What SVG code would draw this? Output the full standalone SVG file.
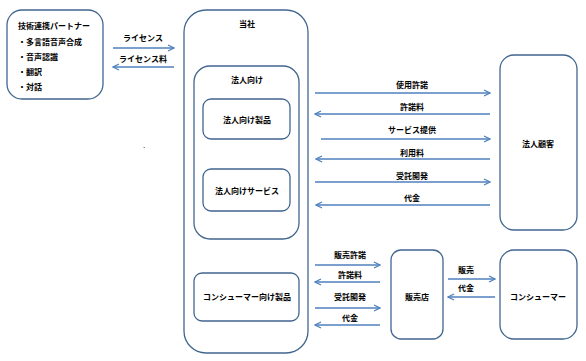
<svg xmlns="http://www.w3.org/2000/svg" width="586" height="361" viewBox="0 0 586 361">
<defs>
<style>
.box{fill:#fff;stroke:#41668f;stroke-width:1.3}
.t{font-family:"Noto Sans CJK JP","Noto Sans",sans-serif;font-size:8px;font-weight:bold;fill:#000}
.c{text-anchor:middle}
.a{stroke:#4f81bd;stroke-width:1.3;fill:none}
</style>
<marker id="ah" viewBox="0 0 8 8" refX="7" refY="4" markerWidth="8" markerHeight="8" markerUnits="userSpaceOnUse" orient="auto-start-reverse">
<path d="M1,1 L7,4 L1,7" fill="none" stroke="#4f81bd" stroke-width="1.3"/>
</marker>
</defs>
<rect width="586" height="361" fill="#fff"/>

<g id="partner">
<rect class="box" x="7" y="10" width="96" height="89" rx="15"/>
<text class="t" x="18" y="29">技術連携パートナー</text>
<text class="t" x="18" y="45">・多言語音声合成</text>
<text class="t" x="18" y="60">・音声認識</text>
<text class="t" x="18" y="75">・翻訳</text>
<text class="t" x="18" y="90">・対話</text>
</g>

<g id="tousha">
<rect class="box" x="184" y="10" width="124" height="343" rx="22"/>
<text class="t c" x="247" y="27">当社</text>
</g>

<g id="houjin">
<rect class="box" x="194" y="66" width="105" height="173" rx="16"/>
<text class="t c" x="247" y="83">法人向け</text>
</g>

<g id="houjin-seihin">
<rect class="box" x="203" y="99" width="87" height="40" rx="8"/>
<text class="t c" x="247" y="123">法人向け製品</text>
</g>

<g id="houjin-service">
<rect class="box" x="203" y="169" width="87" height="42" rx="8"/>
<text class="t c" x="247" y="194">法人向けサービス</text>
</g>

<g id="consumer-seihin">
<rect class="box" x="194" y="273" width="105" height="48" rx="8"/>
<text class="t c" x="247" y="300">コンシューマー向け製品</text>
</g>

<g id="houjin-kokyaku">
<rect class="box" x="500" y="55" width="77" height="175" rx="14"/>
<text class="t c" x="538" y="147">法人顧客</text>
</g>

<g id="hanbaiten">
<rect class="box" x="391" y="250" width="52" height="89" rx="10"/>
<text class="t c" x="417" y="300">販売店</text>
</g>

<g id="consumer">
<rect class="box" x="500" y="250" width="77" height="89" rx="14"/>
<text class="t c" x="538" y="300">コンシューマー</text>
</g>

<g id="connectors">
<line class="a" x1="113" y1="48" x2="174" y2="48" marker-end="url(#ah)"/>
<line class="a" x1="174" y1="67" x2="113" y2="67" marker-end="url(#ah)"/>
<text class="t c" x="143" y="41">ライセンス</text>
<text class="t c" x="143" y="62">ライセンス料</text>

<line class="a" x1="315" y1="93" x2="490" y2="93" marker-end="url(#ah)"/>
<line class="a" x1="490" y1="114" x2="315" y2="114" marker-end="url(#ah)"/>
<line class="a" x1="321" y1="139" x2="490" y2="139" marker-end="url(#ah)"/>
<line class="a" x1="490" y1="159" x2="316" y2="159" marker-end="url(#ah)"/>
<line class="a" x1="315" y1="182" x2="490" y2="182" marker-end="url(#ah)"/>
<line class="a" x1="490" y1="205" x2="316" y2="205" marker-end="url(#ah)"/>
<text class="t c" x="412" y="88">使用許諾</text>
<text class="t c" x="412" y="110">許諾料</text>
<text class="t c" x="412" y="133">サービス提供</text>
<text class="t c" x="412" y="156">利用料</text>
<text class="t c" x="412" y="179">受託開発</text>
<text class="t c" x="412" y="201">代金</text>

<line class="a" x1="315" y1="265" x2="380" y2="265" marker-end="url(#ah)"/>
<line class="a" x1="380" y1="282" x2="315" y2="282" marker-end="url(#ah)"/>
<line class="a" x1="315" y1="308" x2="380" y2="308" marker-end="url(#ah)"/>
<line class="a" x1="380" y1="325" x2="315" y2="325" marker-end="url(#ah)"/>
<text class="t c" x="350" y="258">販売許諾</text>
<text class="t c" x="350" y="278">許諾料</text>
<text class="t c" x="350" y="300">受託開発</text>
<text class="t c" x="350" y="321">代金</text>

<line class="a" x1="448" y1="279" x2="495" y2="279" marker-end="url(#ah)"/>
<line class="a" x1="495" y1="297" x2="448" y2="297" marker-end="url(#ah)"/>
<text class="t c" x="466" y="273">販売</text>
<text class="t c" x="466" y="291">代金</text>
</g>
<rect x="143.5" y="147" width="1.5" height="1" fill="#888"/>
</svg>
